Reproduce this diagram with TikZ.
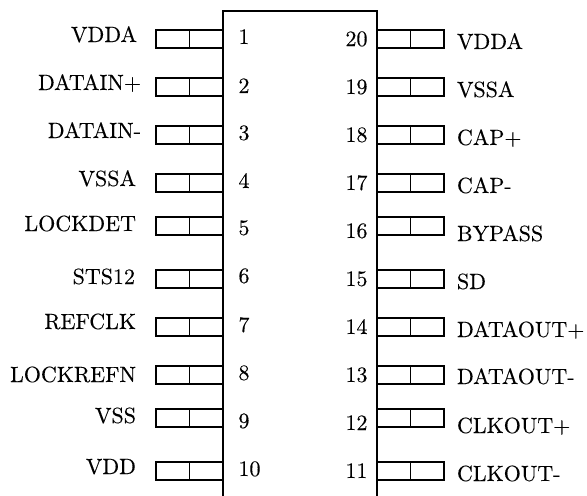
\documentclass[tikz,border=0pt]{standalone}
\usepackage{fontspec}
\setmainfont{lmroman10-regular}[Extension=.otf,FakeBold=0.2]
\tikzset{
  pinbox/.style={draw=black,line width=1.3pt,rectangle,minimum width=50.25pt,minimum height=13.5pt,inner sep=0pt,outer sep=0pt},
  pinlabel/.style={inner sep=0pt,outer sep=0pt,font=\fontsize{16.5}{18}\selectfont,text=black},
  outline/.style={draw=black,line width=1.3pt,line join=miter}
}
\begin{document}
\begin{tikzpicture}[x=0.75pt,y=-0.75pt]
\useasboundingbox (0,0) rectangle (587,496);
\coordinate (bl) at (223,496);
\coordinate (tl) at (223,11);
\coordinate (tr) at (377,11);
\coordinate (br) at (377,496);
\draw[outline] (bl) -- (tl) -- (tr) -- (br);
% left pins: box centre y / label / label end x / label baseline / number / number baseline
\foreach \i/\yc/\lab/\lx/\ly/\num/\ny in {
  1/39/VDDA/137/42/1/44,
  2/87/DATAIN+/141/90/2/93,
  3/135/DATAIN-/141/138/3/140,
  4/183/VSSA/136/186/4/188,
  5/226/LOCKDET/136/231/5/235,
  6/279/STS12/135/284/6/283,
  7/327/REFCLK/136/329/7/332,
  8/375/LOCKREFN/136/382/8/380,
  9/418/VSS/136/423/9/428,
  10/471/VDD/136/474/10/476}{
  \node[pinbox] (L\i) at (189.5,\yc) {};
  \draw[line width=1.3pt] (L\i.north) -- (L\i.south);
  \node[pinlabel,anchor=base east] (LT\i) at (\lx,\ly) {\lab};
  \node[pinlabel,anchor=base west] (LN\i) at (238.5,\ny) {\num};
}
% right pins
\foreach \i/\yc/\lab/\ly/\num/\ny in {
  1/39/VDDA/49/20/46,
  2/87/VSSA/97/19/94,
  3/135/CAP+/145/18/142,
  4/183/CAP-/193/17/190,
  5/226/BYPASS/241/16/238,
  6/279/SD/289/15/286,
  7/327/DATAOUT+/337/14/334,
  8/375/DATAOUT-/384/13/382,
  9/418/CLKOUT+/433/12/430,
  10/471/CLKOUT-/481/11/478}{
  \node[pinbox] (R\i) at (410.5,\yc) {};
  \draw[line width=1.3pt] (R\i.north) -- (R\i.south);
  \node[pinlabel,anchor=base west] (RT\i) at (457,\ly) {\lab};
  \node[pinlabel,anchor=base east] (RN\i) at (367.5,\ny) {\num};
}
\end{tikzpicture}
\end{document}
